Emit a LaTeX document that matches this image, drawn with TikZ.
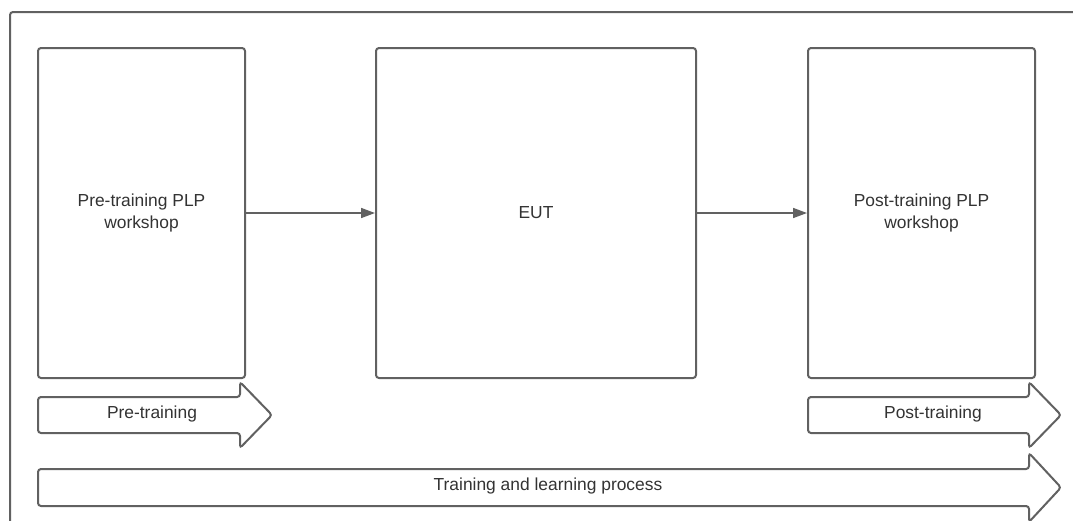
\documentclass[tikz,border=0pt]{standalone}
\usepackage{fontspec}
\setmainfont{Liberation Sans}
\usetikzlibrary{arrows.meta}
\definecolor{edge}{HTML}{616161}
\definecolor{ink}{HTML}{333333}
\begin{document}
\begin{tikzpicture}[x=1pt,y=-1pt,
  frame/.style={draw=edge, line width=2pt, rounded corners=3pt},
  stage/.style={draw=edge, line width=2pt, rounded corners=3pt, fill=white,
    inner sep=0pt, align=center, text=ink,
    font=\fontsize{17.4}{21.5}\selectfont},
  phase/.style={draw=edge, line width=2pt, rounded corners=3pt, fill=white},
  label/.style={inner sep=0pt, text=ink, font=\fontsize{17.4}{21.5}\selectfont},
  link/.style={draw=edge, line width=1.6pt, -{Triangle[length=14pt,width=10pt]}}]
\useasboundingbox (0,0) rectangle (1073,520);
\clip (0,0) rectangle (1073,520);
% outer frame, running past the right and bottom edges
\draw[frame] (10,12) rectangle (1110,560);

% the three stages
\node[stage, minimum width=207pt, minimum height=330pt] (pre) at (141.5,213)
  {Pre-training PLP\\workshop};
\node[stage, minimum width=320pt, minimum height=330pt] (eut) at (536,213) {EUT};
\node[stage, minimum width=227pt, minimum height=330pt] (post) at (921.5,213)
  {Post-training PLP\\workshop};

\draw[link] (pre.east) -- (eut.west);
\draw[link] (eut.east) -- (post.west);

% phase arrows
\draw[phase] (38,397) -- (240,397) -- (240,382) -- (272,415) -- (240,448)
  -- (240,433) -- (38,433) -- cycle;
\node[label] (prelbl) at (152,414) {Pre-training};

\draw[phase] (808,397) -- (1029,397) -- (1029,382) -- (1061,415) -- (1029,448)
  -- (1029,433) -- (808,433) -- cycle;
\node[label] (postlbl) at (933,414) {Post-training};

\draw[phase] (38,469) -- (1029,469) -- (1029,453) -- (1061,487.5) -- (1029,522)
  -- (1029,506) -- (38,506) -- cycle;
\node[label] (alllbl) at (548,486) {Training and learning process};
\end{tikzpicture}
\end{document}
